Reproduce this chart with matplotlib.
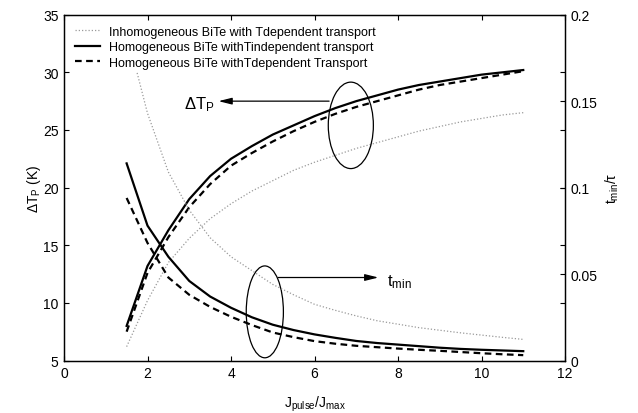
import matplotlib
matplotlib.use("Agg")
import matplotlib.pyplot as plt
from matplotlib.patches import Ellipse
from matplotlib.ticker import FixedLocator, FixedFormatter

plt.rcParams['font.family'] = ['Liberation Sans', 'DejaVu Sans']
plt.rcParams['mathtext.fontset'] = 'custom'
plt.rcParams['mathtext.rm'] = 'Liberation Sans'
plt.rcParams['mathtext.it'] = 'Liberation Sans'
plt.rcParams['mathtext.default'] = 'regular'

# ---- data ----
j_ratio = [1.5, 2, 2.5, 3, 3.5, 4, 4.5, 5, 5.5, 6, 6.5, 7, 7.5, 8, 8.5, 9, 9.5, 10, 10.5, 11]

dT_inhomo_Tdep = [6.2, 10.2, 13.5, 15.6, 17.3, 18.6, 19.7, 20.6, 21.5, 22.2,
                  22.8, 23.4, 23.9, 24.4, 24.9, 25.3, 25.7, 26.0, 26.3, 26.5]
dT_homo_Tindep = [8.0, 13.2, 16.3, 19.0, 21.0, 22.5, 23.6, 24.6, 25.4, 26.2,
                  26.9, 27.5, 28.0, 28.5, 28.9, 29.2, 29.5, 29.8, 30.0, 30.2]
dT_homo_Tdep = [7.5, 12.6, 15.7, 18.3, 20.3, 21.9, 23.0, 24.0, 24.9, 25.7,
                26.4, 27.0, 27.5, 28.0, 28.5, 28.9, 29.2, 29.5, 29.8, 30.1]

tmin_inhomo_Tdep = [0.19, 0.143, 0.109, 0.087, 0.071, 0.060, 0.052, 0.044, 0.038, 0.0325,
                    0.029, 0.0258, 0.023, 0.021, 0.019, 0.0175, 0.016, 0.0147, 0.0134, 0.0122]
tmin_homo_Tindep = [0.114, 0.078, 0.060, 0.046, 0.037, 0.0305, 0.0250, 0.0207, 0.0176, 0.0151,
                    0.0131, 0.0113, 0.0101, 0.0092, 0.0083, 0.0074, 0.0067, 0.0062, 0.0058, 0.0054]
tmin_homo_Tdep = [0.094, 0.068, 0.048, 0.038, 0.031, 0.0253, 0.0205, 0.0162, 0.0135, 0.0112,
                  0.0097, 0.0085, 0.0077, 0.0069, 0.0062, 0.0056, 0.0049, 0.0042, 0.0036, 0.0031]

legend_labels = ['Inhomogeneous BiTe with Tdependent transport',
                 'Homogeneous BiTe withTindependent transport',
                 'Homogeneous BiTe withTdependent Transport']

x_ticks = [0, 2, 4, 6, 8, 10, 12]
left_ticks = [5, 10, 15, 20, 25, 30, 35]
right_ticks = [0, 0.05, 0.1, 0.15, 0.2]
right_tick_labels = ['0', '0.05', '0.1', '0.15', '0.2']

# ---- figure ----
fig = plt.figure(figsize=(6.38, 4.14), dpi=100)
ax = fig.add_axes([64/638, 1-361.5/414, (565-64)/638, (361.5-15.7)/414])
ax2 = ax.twinx()

gray = '#9a9a9a'
lw = 1.6
dot_style = (0, (1, 1.6))

l1, = ax.plot(j_ratio, dT_inhomo_Tdep, color=gray, lw=0.9, linestyle=dot_style)
l2, = ax.plot(j_ratio, dT_homo_Tindep, color='black', lw=lw, linestyle='-')
l3, = ax.plot(j_ratio, dT_homo_Tdep, color='black', lw=lw, linestyle=(0, (3, 2)))

ax2.plot(j_ratio, tmin_inhomo_Tdep, color=gray, lw=0.9, linestyle=dot_style)
ax2.plot(j_ratio, tmin_homo_Tindep, color='black', lw=lw, linestyle='-')
ax2.plot(j_ratio, tmin_homo_Tdep, color='black', lw=lw, linestyle=(0, (3, 2)))

ax.set_xlim(0, 12)
ax.set_ylim(5, 35)
ax2.set_ylim(0, 0.2)
ax.set_xticks(x_ticks)
ax.set_yticks(left_ticks)
ax2.yaxis.set_major_locator(FixedLocator(right_ticks))
ax2.yaxis.set_major_formatter(FixedFormatter(right_tick_labels))

ax.tick_params(direction='in', length=3.6, width=0.8, top=True, right=True,
               labelright=False, labelsize=10, pad=4, colors='black')
ax2.tick_params(direction='in', length=3.6, width=0.8, labelsize=10, pad=4)
for a in (ax, ax2):
    for s in a.spines.values():
        s.set_linewidth(0.9)

ax.set_xlabel(r'$J_{pulse}/J_{max}$', fontsize=10, labelpad=10)
ax.set_ylabel(r'$ΔT_P$ (K)', fontsize=10, labelpad=0)
ax2.set_ylabel(r'$t_{min}/τ$', fontsize=10, rotation=90, labelpad=4)

# annotations
ax.add_patch(Ellipse((6.87, 25.4), 1.08, 7.5, fill=False, edgecolor='black', lw=0.9, zorder=5))
ax.add_patch(Ellipse((4.81, 9.22), 0.89, 7.97, fill=False, edgecolor='black', lw=0.9, zorder=5))
ax.annotate('', xy=(3.70, 27.5), xytext=(6.35, 27.5),
            arrowprops=dict(arrowstyle='-|>,head_length=0.8,head_width=0.2', color='black', lw=0.9,
                            shrinkA=0, shrinkB=0))
ax.annotate('', xy=(7.53, 12.2), xytext=(5.13, 12.2),
            arrowprops=dict(arrowstyle='-|>,head_length=0.8,head_width=0.2', color='black', lw=0.9,
                            shrinkA=0, shrinkB=0))
ax.text(2.87, 27.3, r'$ΔT_P$', fontsize=12, va='center', ha='left')
ax.text(7.73, 11.9, r'$t_{min}$', fontsize=12, va='center', ha='left')

leg = ax2.legend([l1, l2, l3], legend_labels, loc='upper left',
                 bbox_to_anchor=(0.007, 0.99), fontsize=9, frameon=True,
                 facecolor='white', edgecolor='none', framealpha=1, fancybox=False,
                 handlelength=2.0, handletextpad=0.7, labelspacing=0.28,
                 borderpad=0.3, borderaxespad=0.3)

fig.savefig('out.png', dpi=100)
